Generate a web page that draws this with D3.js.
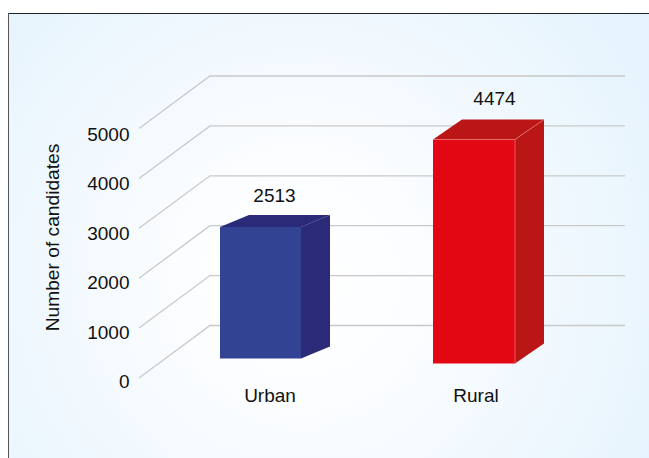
<!DOCTYPE html>
<html><head><meta charset="utf-8">
<script src="https://cdn.jsdelivr.net/npm/d3@7"></script>
<style>html,body{margin:0;padding:0;background:#fff}svg{display:block}text{font-family:"Liberation Sans",Arial,sans-serif;fill:#111}</style>
</head><body><svg id="c" width="649" height="458"></svg>
<script>
const categories = ["Urban", "Rural"];
const values = [2513, 4474];
const tickValues = [0, 1000, 2000, 3000, 4000, 5000];
const axisTitle = "Number of candidates";

const svg = d3.select("#c");
const defs = svg.append("defs");
const g = defs.append("radialGradient").attr("id","bg").attr("gradientUnits","userSpaceOnUse")
  .attr("cx",300).attr("cy",280).attr("r",420);
g.append("stop").attr("offset",0).attr("stop-color","#ffffff");
g.append("stop").attr("offset",0.3).attr("stop-color","#fbfdff");
g.append("stop").attr("offset",1).attr("stop-color","#e4f3fd");

svg.append("rect").attr("x",8).attr("y",13).attr("width",641).attr("height",445).attr("fill","url(#bg)");
svg.append("line").attr("x1",8).attr("x2",649).attr("y1",13.5).attr("y2",13.5).attr("stroke","#222");
svg.append("line").attr("x1",8.5).attr("x2",8.5).attr("y1",13).attr("y2",458).attr("stroke","#555");

const y = d3.scaleLinear().domain([0,5000]).range([378,128.5]);
const yLabel = d3.scaleLinear().domain([0,5000]).range([388,141]);
const depthX = 71, depthY = -52.5, gridEnd = 625, gx = 139;

svg.append("g").selectAll("path").data(tickValues).join("path")
  .attr("fill","none").attr("stroke","#c9c9c9").attr("stroke-width",1.3)
  .attr("d",d=>`M${gx},${y(d)}L${gx+depthX},${y(d)+depthY}L${gridEnd},${y(d)+depthY}`);

svg.append("g").selectAll("text").data(tickValues).join("text")
  .attr("x",129.5).attr("y",d=>yLabel(d)).attr("text-anchor","end").attr("font-size",19).text(d=>d);

svg.append("text").attr("transform","translate(59,237.5) rotate(-90)").attr("text-anchor","middle")
  .attr("font-size",19.2).text(axisTitle);

const barX = d3.scalePoint().domain(categories).range([220,433]);
const barW = d3.scaleOrdinal().domain(categories).range([81,82]);
const base = d3.scaleOrdinal().domain(categories).range([358.5,363.5]);
const h = d3.scaleLinear().domain(values).range([131.5,224]);
const depth = d3.scaleOrdinal().domain(categories).range([[29,-12],[29,-20]]);
const front = d3.scaleOrdinal().domain(categories).range(["#334394","#e30613"]);
const side = d3.scaleOrdinal().domain(categories).range(["#2a2a78","#bb1616"]);
const edge = d3.scaleOrdinal().domain(categories).range(["none","#e87a80"]);

const bars = svg.append("g").selectAll("g").data(categories.map((c,i)=>({c,v:values[i]}))).join("g");
bars.each(function(d){
  const s = d3.select(this);
  const x0 = barX(d.c), x1 = x0+barW(d.c), yb = base(d.c), yt = yb-h(d.v), [dx,dy] = depth(d.c);
  s.append("path").attr("fill",side(d.c)).attr("d",`M${x1},${yb}L${x1+dx},${yb+dy}L${x1+dx},${yt+dy}L${x1},${yt}Z`);
  s.append("path").attr("fill",side(d.c)).attr("d",`M${x0},${yt}L${x0+dx},${yt+dy}L${x1+dx},${yt+dy}L${x1},${yt}Z`);
  s.append("rect").attr("x",x0).attr("y",yt).attr("width",barW(d.c)).attr("height",h(d.v)).attr("fill",front(d.c));
  s.append("path").attr("fill","none").attr("stroke",edge(d.c)).attr("stroke-width",.7)
    .attr("d",`M${x0},${yt}L${x1},${yt}L${x1},${yb}M${x1},${yt}L${x1+dx},${yt+dy}`);
});

const labelX = d3.scaleOrdinal().domain(categories).range([270,476]);
const valX = d3.scaleOrdinal().domain(categories).range([274.5,494.5]);
const valY = d3.scaleOrdinal().domain(categories).range([202,105]);
svg.append("g").selectAll("text").data(categories).join("text")
  .attr("x",c=>labelX(c)).attr("y",402).attr("text-anchor","middle").attr("font-size",19).text(c=>c);
svg.append("g").selectAll("text").data(values).join("text")
  .attr("x",(v,i)=>valX(categories[i])).attr("y",(v,i)=>valY(categories[i])).attr("text-anchor","middle").attr("font-size",19).text(v=>v);
</script></body></html>
